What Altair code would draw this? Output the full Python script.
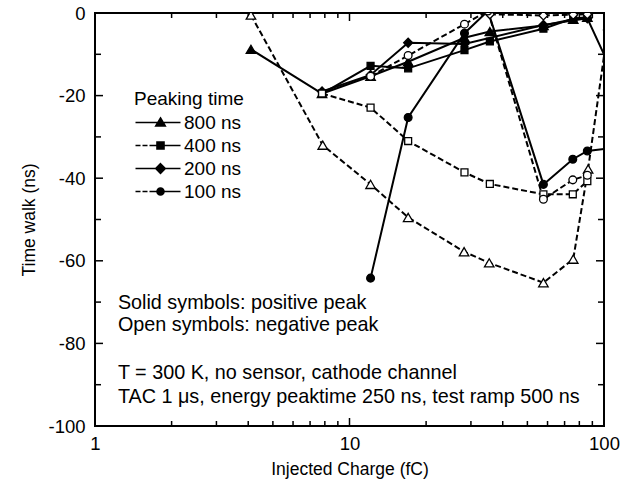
import altair as alt
import pandas as pd

FONT = "Liberation Sans"

# Peaking times, with the marker (and marker area) used for each one
peaking = ["800 ns", "400 ns", "200 ns", "100 ns"]
markers = ["triangle-up", "square", "diamond", "circle"]
marker_sizes = [90, 48, 80, 60]

# Positive peak (solid symbols, solid lines)
pos_800_x = [4.1, 7.8, 12.1, 17.0, 28.3, 35.6, 57.8, 75.7, 86.0]
pos_800_y = [-8.8, -19.5, -15.3, -11.8, -6.0, -4.5, -3.0, -1.5, -1.0]
pos_400_x = [7.8, 12.1, 17.0, 28.3, 35.6, 57.8, 75.7, 86.0]
pos_400_y = [-19.5, -12.8, -13.4, -9.0, -6.9, -3.8, -1.3, -1.0]
pos_200_x = [7.8, 12.1, 17.0, 28.3, 57.8, 86.0, 104.0]
pos_200_y = [-19.0, -15.0, -7.2, -7.5, -2.9, -1.3, -12.3]
pos_100_x = [12.1, 17.0, 28.3, 35.0, 57.8, 75.4, 86.0, 104.0]
pos_100_y = [-64.2, -25.3, -4.9, 0.5, -41.5, -35.4, -33.4, -32.8]

# Negative peak (open symbols, dashed lines)
neg_800_x = [4.1, 7.85, 12.1, 17.0, 28.2, 35.4, 57.8, 75.7, 86.6, 104.0]
neg_800_y = [-0.5, -32.0, -41.5, -49.5, -57.8, -60.5, -65.3, -59.6, -37.8, -3.0]
neg_400_x = [7.8, 12.1, 17.0, 28.3, 35.6, 57.8, 75.4, 86.0]
neg_400_y = [-19.5, -22.9, -31.0, -38.6, -41.4, -43.9, -43.9, -40.7]
neg_200_x = [35.6, 57.8, 75.7, 86.0]
neg_200_y = [-0.3, -0.6, -0.4, -0.3]
neg_100_x = [12.1, 17.0, 28.3, 35.0, 57.8, 75.4, 86.0]
neg_100_y = [-15.3, -10.3, -2.7, 0.5, -45.1, -40.4, -39.3]

# Annotation lines inside the plot (anchored in data coordinates)
notes = [
    "Solid symbols: positive peak",
    "Open symbols: negative peak",
    "T = 300 K, no sensor, cathode channel",
    "TAC 1 \u03bcs, energy peaktime 250 ns, test ramp 500 ns",
]
notes_x = [1.23, 1.23, 1.23, 1.23]
notes_y = [-70.2, -75.5, -87.2, -93.0]

# Axis tick values
x_major = [1, 10, 100]
x_minor = [2, 3, 4, 5, 6, 7, 8, 9, 20, 30, 40, 50, 60, 70, 80, 90]
y_major = [-100, -80, -60, -40, -20, 0]
y_minor = [-90, -70, -50, -30, -10]

# Legend glyphs: a short line through the marker (custom SVG paths)
legend_paths = [
    "M-1.6,0H7.4M3.4,-0.9L4.35,0.7L2.45,0.7Z",
    "M-1.6,0H-0.6M-0.2,0H0.8M1.2,0H7.4M2.7,-0.7H4.1V0.7H2.7Z",
    "M-1.6,0H7.4M3.4,-0.95L4.35,0L3.4,0.95L2.45,0Z",
    "M-1.6,0H-0.6M-0.2,0H0.8M1.2,0H7.4M2.7,0A0.7,0.7,0,1,0,4.1,0A0.7,0.7,0,1,0,2.7,0Z",
]

series = [
    ("800 ns", "pos", pos_800_x, pos_800_y),
    ("400 ns", "pos", pos_400_x, pos_400_y),
    ("200 ns", "pos", pos_200_x, pos_200_y),
    ("100 ns", "pos", pos_100_x, pos_100_y),
    ("800 ns", "neg", neg_800_x, neg_800_y),
    ("400 ns", "neg", neg_400_x, neg_400_y),
    ("200 ns", "neg", neg_200_x, neg_200_y),
    ("100 ns", "neg", neg_100_x, neg_100_y),
]

rows = []
for pt, sign, xs_, ys_ in series:
    k = peaking.index(pt)
    for xv, yv in zip(xs_, ys_):
        rows.append({
            "series": f"{pt} {sign}",
            "peaking": pt,
            "sign": sign,
            "charge": xv,
            "walk": yv,
            "marker": markers[k],
            "msize": marker_sizes[k],
            "fill": "black" if sign == "pos" else "white",
        })
df = pd.DataFrame(rows)

W, H = 509, 413
xs = alt.Scale(type="log", domain=[1, 100], nice=False)
ys = alt.Scale(domain=[-100, 0], nice=False)

x_plain = alt.X("charge:Q", scale=xs, axis=None)
y_plain = alt.Y("walk:Q", scale=ys, axis=None)

# Labelled axes (ticks are drawn separately, pointing inwards)
axes_layer = alt.Chart(df).mark_point(opacity=0).encode(
    x=alt.X("charge:Q", scale=xs, axis=alt.Axis(
        orient="bottom", values=x_major, labelExpr="'' + datum.value",
        ticks=False, domain=False, grid=False, labelPadding=8,
        labelFont=FONT, labelFontSize=18.5, labelColor="black",
        title="Injected Charge (fC)", titleFont=FONT, titleFontSize=17.5,
        titleFontWeight="normal", titleColor="black", titlePadding=8,
        labelFlush=False,
    )),
    y=alt.Y("walk:Q", scale=ys, axis=alt.Axis(
        orient="left", values=y_major, labelExpr="'' + datum.value",
        ticks=False, domain=False, grid=False, labelPadding=10,
        labelFont=FONT, labelFontSize=18.5, labelColor="black",
        title="Time walk (ns)", titleFont=FONT, titleFontSize=17.5,
        titleFontWeight="normal", titleColor="black", titlePadding=9,
    )),
)


def x_ticks(vals, length, side):
    d = pd.DataFrame({"v": vals})
    y0 = H if side == "bottom" else 0
    y1 = H - length if side == "bottom" else length
    return alt.Chart(d).mark_rule(color="black", strokeWidth=1.5).encode(
        x=alt.X("v:Q", scale=xs, axis=None),
        y=alt.value(y0), y2=alt.value(y1),
    )


def y_ticks(vals, length, side):
    d = pd.DataFrame({"v": vals})
    x0 = 0 if side == "left" else W
    x1 = length if side == "left" else W - length
    return alt.Chart(d).mark_rule(color="black", strokeWidth=1.5).encode(
        y=alt.Y("v:Q", scale=ys, axis=None),
        x=alt.value(x0), x2=alt.value(x1),
    )


ticks = [
    x_ticks(x_major, 8, "bottom"), x_ticks(x_minor, 5, "bottom"),
    x_ticks(x_major, 8, "top"), x_ticks(x_minor, 5, "top"),
    y_ticks(y_major, 8, "left"), y_ticks(y_minor, 6, "left"),
    y_ticks(y_major, 8, "right"), y_ticks(y_minor, 6, "right"),
]

# Data lines
lines_pos = alt.Chart(df).transform_filter("datum.sign == 'pos'").mark_line(
    color="black", strokeWidth=2, clip=True
).encode(x=x_plain, y=y_plain, detail="series:N")

lines_neg = alt.Chart(df).transform_filter("datum.sign == 'neg'").mark_line(
    color="black", strokeWidth=2, strokeDash=[6, 3], clip=True
).encode(x=x_plain, y=y_plain, detail="series:N")

points = alt.Chart(df).mark_point(
    stroke="black", strokeWidth=1.3, opacity=1, clip=True
).encode(
    x=x_plain,
    y=y_plain,
    shape=alt.Shape("marker:N", scale=None),
    fill=alt.Fill("fill:N", scale=None),
    size=alt.Size("msize:Q", scale=None),
)

# Legend carrier
legend_df = pd.DataFrame({"peaking": peaking})
legend_layer = alt.Chart(legend_df).mark_point(
    filled=True, color="black", opacity=0
).encode(
    x=alt.value(0),
    y=alt.value(0),
    shape=alt.Shape(
        "peaking:N",
        sort=peaking,
        scale=alt.Scale(domain=peaking, range=legend_paths),
        legend=alt.Legend(
            orient="none", legendX=39, legendY=77, padding=0,
            title="Peaking time", titleFont=FONT, titleFontSize=19,
            titleFontWeight="normal", titleColor="black", titlePadding=4,
            labelFont=FONT, labelFontSize=19, labelColor="black",
            labelOffset=31, rowPadding=3,
            symbolSize=100, symbolStrokeWidth=1.6,
            symbolStrokeColor="black", symbolFillColor="black",
            symbolOpacity=1,
        ),
    ),
)

notes_df = pd.DataFrame({"text": notes, "charge": notes_x, "walk": notes_y})
notes_layer = alt.Chart(notes_df).mark_text(
    align="left", baseline="middle", font=FONT, fontSize=19.8, color="black"
).encode(x=x_plain, y=y_plain, text="text:N")

chart = alt.layer(
    axes_layer, *ticks,
    lines_pos, lines_neg, points, notes_layer, legend_layer,
).resolve_axis(
    x="independent", y="independent"
).properties(
    width=W, height=H,
    autosize=alt.AutoSizeParams(type="none"),
    padding={"left": 95, "top": 13, "right": 26, "bottom": 60},
    background="white",
).configure_view(
    stroke="black", strokeWidth=2
)

chart.save("out.html", embed_options={"renderer": "svg", "actions": False})
